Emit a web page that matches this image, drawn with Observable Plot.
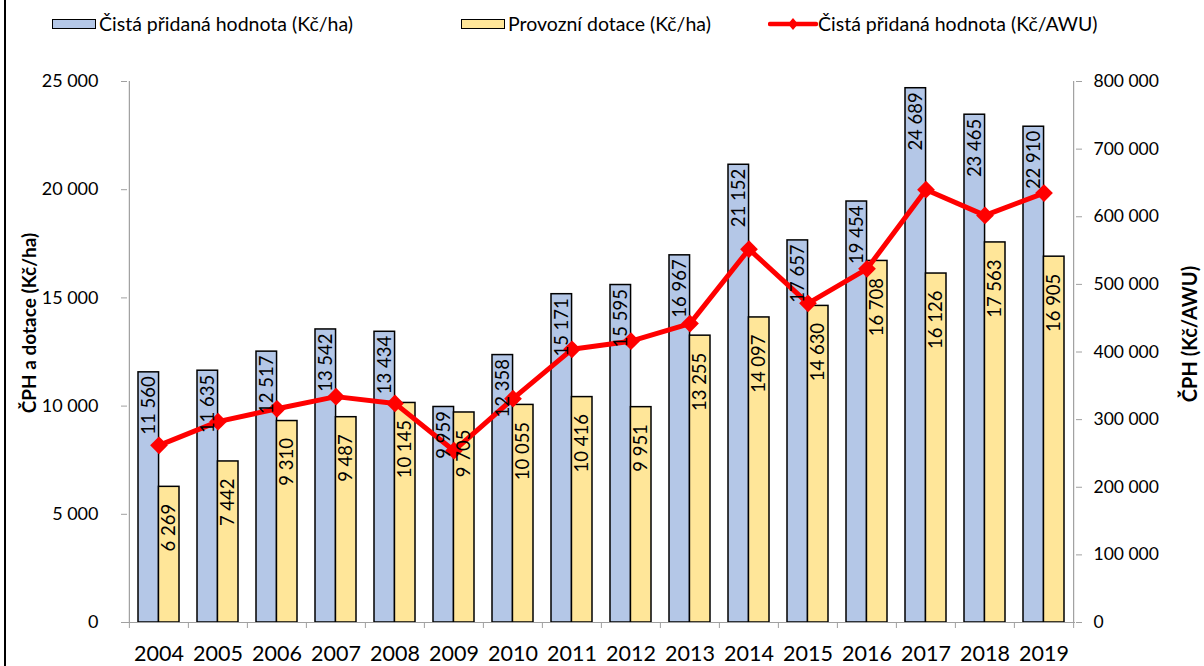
<!DOCTYPE html>
<html><head><meta charset="utf-8">
<script src="https://cdn.jsdelivr.net/npm/d3@7"></script>
<script src="https://cdn.jsdelivr.net/npm/@observablehq/plot@0.6"></script>
<style>
body{margin:0;background:#fff;font-family:Lato,"Open Sans",sans-serif;}
#wrap{position:relative;width:1204px;height:666px;overflow:hidden;background:#fff;}
#frame{position:absolute;left:4px;top:0;width:2px;height:666px;background:#000;}
#legend{position:absolute;top:0;left:0;width:1204px;height:50px;}
.item{position:absolute;top:12px;font-size:19.5px;line-height:24px;display:flex;align-items:center;color:#000;white-space:nowrap;}
.sw{width:42px;height:8px;border:1.5px solid #000;margin-right:3px;}
#chart{position:absolute;top:50px;left:0;}
</style></head>
<body>
<div id="wrap">
  <div id="legend">
    <div class="item" style="left:52px"><span class="sw" style="background:#b4c7e7"></span><span>Čistá přidaná hodnota (Kč/ha)</span></div>
    <div class="item" style="left:461px"><span class="sw" style="background:#ffe699"></span><span>Provozní dotace (Kč/ha)</span></div>
    <div class="item" style="left:768px"><svg width="50" height="16" style="margin-right:0px"><line x1="2" y1="8" x2="48" y2="8" stroke="#ff0000" stroke-width="4.5" stroke-linecap="round"/><path d="M25 2 L30 8 L25 14 L20 8 Z" fill="#ff0000"/></svg><span>Čistá přidaná hodnota (Kč/AWU)</span></div>
  </div>
  <div id="chart"></div>
  <div id="frame"></div>
</div>
<script>
const years = ["2004","2005","2006","2007","2008","2009","2010","2011","2012","2013","2014","2015","2016","2017","2018","2019"];
const cphHa = [11560,11635,12517,13542,13434,9959,12358,15171,15595,16967,21152,17657,19454,24689,23465,22910];
const dotaceHa = [6269,7442,9310,9487,10145,9705,10055,10416,9951,13255,14097,14630,16708,16126,17563,16905];
const cphAwu = [262000,297000,316000,334000,324000,254000,331000,404000,416000,442000,552000,472000,523000,640000,602000,635000];
const leftTicks = [0,5000,10000,15000,20000,25000];
const rightTicks = [0,100000,200000,300000,400000,500000,600000,700000,800000];
const labelLeft = "ČPH a dotace (Kč/ha)";
const labelRight = "ČPH (Kč/AWU)";

const fmt = v => d3.format(",")(v).replace(/,/g, " ");
const ratio = 25000 / 800000;
const data = years.map((y, i) => ({year: y, cph: cphHa[i], dot: dotaceHa[i], awu: cphAwu[i]}));

const W = 1204, H = 616;
const mL = 127, mR = W - 1075, mT = 31, mB = H - 572;
const pIn = 0.31, pOut = 0.155;
const stepReal = (W - mL - mR) / years.length;
const bw = stepReal * (1 - pIn);
const axisGray = "#a0a0a0";
const fs = 18.5;

const chart = Plot.plot({
  width: W, height: H,
  marginLeft: mL, marginRight: mR, marginTop: mT, marginBottom: mB,
  style: {fontFamily: "Lato, 'Open Sans', sans-serif", background: "white", color: "#000"},
  x: {type: "band", domain: years, paddingInner: pIn, paddingOuter: pOut, axis: null},
  y: {domain: [0, 25000], axis: null},
  marks: [
    Plot.barY(data, {x: "year", y: "cph", fill: "#b4c7e7", stroke: "#000", strokeWidth: 1.5, insetRight: bw / 2}),
    Plot.barY(data, {x: "year", y: "dot", fill: "#ffe699", stroke: "#000", strokeWidth: 1.5, insetLeft: bw / 2}),
    Plot.ruleY([0], {stroke: axisGray, strokeWidth: 1.2}),
    Plot.ruleX([years[0]], {y1: 0, y2: 25000, dx: -stepReal / 2, stroke: axisGray, strokeWidth: 1.2}),
    Plot.ruleX([years[years.length - 1]], {y1: 0, y2: 25000, dx: stepReal / 2, stroke: axisGray, strokeWidth: 1.2}),
    Plot.axisX(years, {anchor: "bottom", tickSize: 6, text: null, dx: -stepReal / 2, stroke: axisGray, label: null}),
    Plot.axisX([years[years.length - 1]], {anchor: "bottom", tickSize: 6, text: null, dx: stepReal / 2, stroke: axisGray, label: null}),
    Plot.axisX(years, {anchor: "bottom", tickSize: 0, tickPadding: 23, fontSize: 21.5, label: null}),
    Plot.axisY(leftTicks, {anchor: "left", tickSize: 6, tickPadding: 23, tickFormat: fmt, stroke: axisGray, fontSize: 18, label: null}),
    Plot.axisY(rightTicks.map(v => v * ratio), {anchor: "right", tickSize: 6, tickPadding: 12, tickFormat: v => fmt(Math.round(v / ratio)), stroke: axisGray, fontSize: 17.5, label: null}),
    Plot.line(data, {x: "year", y: d => d.awu * ratio, stroke: "#ff0000", strokeWidth: 5}),
    Plot.dot(data, {x: "year", y: d => d.awu * ratio, symbol: "diamond2", r: 8, fill: "#ff0000", stroke: null}),
    Plot.text(data, {x: "year", y: "cph", text: d => fmt(d.cph), rotate: -90, textAnchor: "end", dx: -bw / 4, dy: 4, fontSize: fs, fill: "#000"}),
    Plot.text(data, {x: "year", y: "dot", text: d => fmt(d.dot), rotate: -90, textAnchor: "end", dx: bw / 4, dy: 17, fontSize: fs, fill: "#000"}),
    Plot.text([labelLeft], {frameAnchor: "left", textAnchor: "middle", dx: -98, dy: -29, rotate: -90, fontWeight: "bold", fontSize: 19, fill: "#000"}),
    Plot.text([labelRight], {frameAnchor: "right", textAnchor: "middle", dx: 115, dy: -18, rotate: -90, fontWeight: "bold", fontSize: 20, fill: "#000"})
  ]
});
document.getElementById("chart").appendChild(chart);
</script>
</body></html>
